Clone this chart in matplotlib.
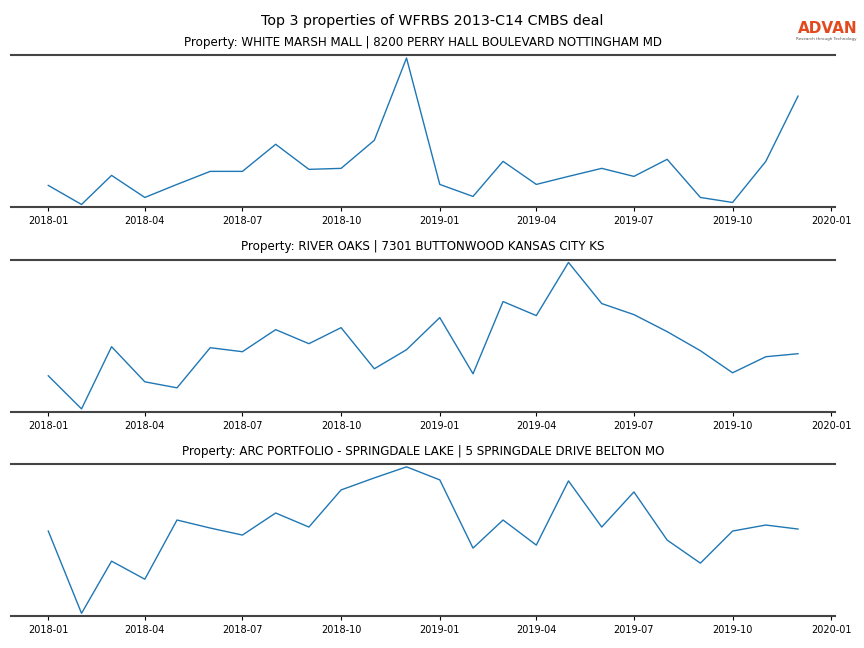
import pandas as pd
import matplotlib.pyplot as plt
import matplotlib.dates as mdates

# monthly series, relative units
months = pd.date_range("2018-01-01", "2019-12-01", freq="MS")

titles = [
    "Property: WHITE MARSH MALL | 8200 PERRY HALL BOULEVARD NOTTINGHAM MD",
    "Property: RIVER OAKS | 7301 BUTTONWOOD KANSAS CITY KS",
    "Property: ARC PORTFOLIO - SPRINGDALE LAKE | 5 SPRINGDALE DRIVE BELTON MO",
]

white_marsh = [21, 2, 31, 9, 22, 35, 35, 62, 37, 38, 66, 148,
               22, 10, 45, 22, 30, 38, 30, 47, 9, 4, 45, 110]
river_oaks = [35, 2, 64, 29, 23, 63, 59, 81, 67, 83, 42, 61,
              93, 37, 109, 95, 148, 107, 96, 79, 60, 38, 54, 57]
springdale = [85, 3, 55, 37, 96, 88, 81, 103, 89, 126, 138, 149,
              136, 68, 96, 71, 135, 89, 124, 76, 53, 85, 91, 87]

series = [white_marsh, river_oaks, springdale]

fig, axes = plt.subplots(3, 1, figsize=(8.64, 6.48), dpi=100)
fig.subplots_adjust(left=0.0125, right=0.967, top=0.915, bottom=0.049, hspace=0.342)
fig.suptitle("Top 3 properties of WFRBS 2013-C14 CMBS deal", fontsize=10.3, y=0.979)

for ax, title, vals in zip(axes, titles, series):
    ax.plot(months, vals, color="#1f77b4", linewidth=1)
    ax.set_title(title, fontsize=8.6, pad=6.5)
    ax.margins(y=0.02)
    ax.set_yticks([])
    for side in ["left", "right"]:
        ax.spines[side].set_visible(False)
    for side in ["top", "bottom"]:
        ax.spines[side].set_color("#444444")
        ax.spines[side].set_linewidth(1.5)
    ax.xaxis.set_major_locator(mdates.MonthLocator(bymonth=[1, 4, 7, 10]))
    ax.xaxis.set_major_formatter(mdates.DateFormatter("%Y-%m"))
    ax.tick_params(axis="x", labelsize=7, length=3, width=0.8)

# logo
fig.text(0.992, 0.945, "ADVAN", color="#e2491f", fontsize=11, fontweight="bold",
         ha="right", va="bottom")
fig.text(0.992, 0.936, "Research through Technology", color="#555555", fontsize=3,
         ha="right", va="bottom")

plt.savefig("out.png")
